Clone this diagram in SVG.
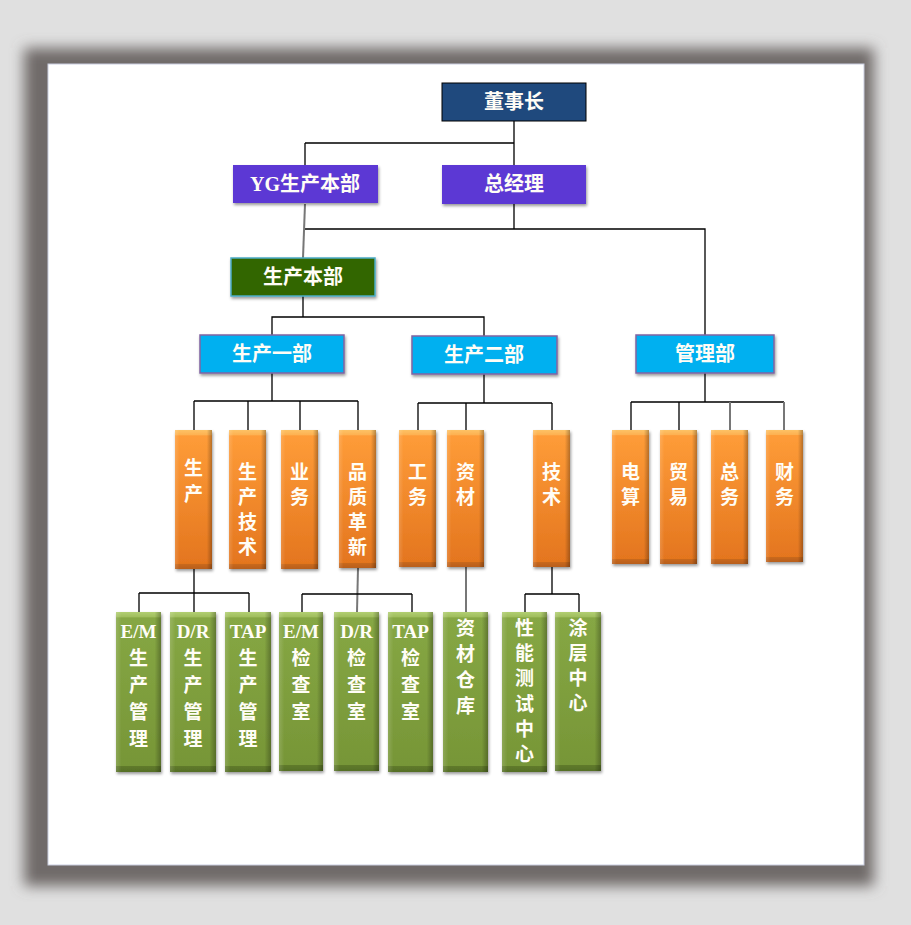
<svg xmlns="http://www.w3.org/2000/svg" width="911" height="925" viewBox="0 0 911 925">
<defs>
<style>
.t{font-family:'Liberation Serif','Noto Sans CJK SC',serif;font-weight:700;fill:#fffdf6;font-size:19px;text-anchor:middle}
.tt{font-size:20px}
.c{fill:none;stroke:#000;stroke-width:1.3}
.g{fill:none;stroke:#777;stroke-width:2}
.ob{fill:url(#og);filter:url(#ds)}
.gb{fill:url(#gg);filter:url(#ds)}
.sd{fill:url(#side)}
.hb{filter:url(#ds)}
</style>
<filter id="pg" x="-10%" y="-10%" width="120%" height="120%"><feGaussianBlur stdDeviation="7"/></filter>
<filter id="ds" x="-20%" y="-20%" width="140%" height="140%"><feDropShadow dx="1" dy="2" stdDeviation="1.5" flood-color="#000" flood-opacity="0.4"/></filter>
<linearGradient id="og" x1="0" y1="0" x2="0" y2="1">
<stop offset="0" stop-color="#fdc265"/><stop offset="0.035" stop-color="#fdb152"/><stop offset="0.042" stop-color="#fe9c38"/><stop offset="0.96" stop-color="#e4761f"/><stop offset="0.965" stop-color="#c8681e"/><stop offset="1" stop-color="#b85f1c"/>
</linearGradient>
<linearGradient id="gg" x1="0" y1="0" x2="0" y2="1">
<stop offset="0" stop-color="#b2cf72"/><stop offset="0.03" stop-color="#a0be5f"/><stop offset="0.037" stop-color="#86a744"/><stop offset="0.96" stop-color="#779637"/><stop offset="0.965" stop-color="#5f7a2b"/><stop offset="1" stop-color="#566f27"/>
</linearGradient>
<linearGradient id="side" x1="0" y1="0" x2="1" y2="0">
<stop offset="0" stop-color="#fff" stop-opacity="0.15"/><stop offset="0.12" stop-color="#fff" stop-opacity="0"/><stop offset="0.86" stop-color="#000" stop-opacity="0"/><stop offset="1" stop-color="#000" stop-opacity="0.28"/>
</linearGradient>
</defs>
<rect width="911" height="925" fill="#e0e0e0"/>
<rect x="24" y="48" width="850" height="838" fill="#6f6b69" filter="url(#pg)"/>
<rect x="48" y="64" width="816" height="801" fill="#fff" stroke="#c9cde0" stroke-width="1"/>

<g id="connectors">
<path class="c" d="M514,121V165M305,143H514M305,165V143M514,204V229M305,229H705V335"/>
<path class="g" d="M305,204L303,258"/>
<path class="c" d="M303,296V317M272,335V317H484V336"/>
<path class="c" d="M272,373V401M194,401H358M194,401V430M248,401V430M300,401V430M358,401V430"/>
<path class="c" d="M484,374V403M418,403H552M418,403V430M466,403V430M552,403V430"/>
<path class="c" d="M705,373V402M631,402H784M631,402V430M679,402V430"/>
<path class="g" d="M730,402V430M784,402V430"/>
<path class="c" d="M194,569V612M139,593H249M139,593V612M249,593V612"/>
<path class="g" d="M358,568L357,612"/>
<path class="c" d="M302,594H412M302,594V612M412,594V612"/>
<path class="g" d="M466,567V612"/>
<path class="c" d="M552,567V594M525,594H579M525,594V612M579,594V612"/>
</g>

<g id="n-dsz"><rect x="442" y="83" width="144" height="38" fill="#1f497d" stroke="#000" stroke-width="1"/><text class="t tt" x="514" y="109">董事长</text></g>
<g id="n-yg"><rect class="hb" x="233" y="165" width="145" height="38" fill="#5b37d4"/><text class="t tt" x="305" y="191">YG生产本部</text></g>
<g id="n-zjl"><rect class="hb" x="442" y="165" width="144" height="39" fill="#5b37d4"/><text class="t tt" x="514" y="191">总经理</text></g>
<g id="n-sc"><rect class="hb" x="231" y="258" width="144" height="38" fill="#336600" stroke="#4bacc6" stroke-width="1.5"/><text class="t tt" x="303" y="284">生产本部</text></g>
<g id="n-sc1"><rect class="hb" x="200" y="335" width="144" height="38" fill="#00b0f0" stroke="#8064a2" stroke-width="1.5"/><text class="t tt" x="272" y="361">生产一部</text></g>
<g id="n-sc2"><rect class="hb" x="412" y="336" width="145" height="38" fill="#00b0f0" stroke="#8064a2" stroke-width="1.5"/><text class="t tt" x="484" y="362">生产二部</text></g>
<g id="n-gl"><rect class="hb" x="636" y="335" width="138" height="38" fill="#00b0f0" stroke="#8064a2" stroke-width="1.5"/><text class="t tt" x="705" y="361">管理部</text></g>

<g id="o-sc"><rect class="ob" x="175" y="430" width="37" height="139"/><rect class="sd" x="175" y="430" width="37" height="139"/><text class="t" x="193.5" y="475">生<tspan x="193.5" dy="26">产</tspan></text></g>
<g id="o-scjs"><rect class="ob" x="229" y="430" width="37" height="139"/><rect class="sd" x="229" y="430" width="37" height="139"/><text class="t" x="247.5" y="479">生<tspan x="247.5" dy="25">产</tspan><tspan x="247.5" dy="25">技</tspan><tspan x="247.5" dy="25">术</tspan></text></g>
<g id="o-yw"><rect class="ob" x="281" y="430" width="37" height="139"/><rect class="sd" x="281" y="430" width="37" height="139"/><text class="t" x="299.5" y="479">业<tspan x="299.5" dy="25">务</tspan></text></g>
<g id="o-pz"><rect class="ob" x="339" y="430" width="37" height="138"/><rect class="sd" x="339" y="430" width="37" height="138"/><text class="t" x="357.5" y="479">品<tspan x="357.5" dy="25">质</tspan><tspan x="357.5" dy="25">革</tspan><tspan x="357.5" dy="25">新</tspan></text></g>
<g id="o-gw"><rect class="ob" x="399" y="430" width="37" height="137"/><rect class="sd" x="399" y="430" width="37" height="137"/><text class="t" x="417.5" y="479">工<tspan x="417.5" dy="25">务</tspan></text></g>
<g id="o-zc"><rect class="ob" x="447" y="430" width="37" height="137"/><rect class="sd" x="447" y="430" width="37" height="137"/><text class="t" x="465.5" y="479">资<tspan x="465.5" dy="25">材</tspan></text></g>
<g id="o-js"><rect class="ob" x="533" y="430" width="37" height="137"/><rect class="sd" x="533" y="430" width="37" height="137"/><text class="t" x="551.5" y="479">技<tspan x="551.5" dy="25">术</tspan></text></g>
<g id="o-ds"><rect class="ob" x="612" y="430" width="37" height="134"/><rect class="sd" x="612" y="430" width="37" height="134"/><text class="t" x="630.5" y="479">电<tspan x="630.5" dy="25">算</tspan></text></g>
<g id="o-my"><rect class="ob" x="660" y="430" width="37" height="134"/><rect class="sd" x="660" y="430" width="37" height="134"/><text class="t" x="678.5" y="479">贸<tspan x="678.5" dy="25">易</tspan></text></g>
<g id="o-zw"><rect class="ob" x="711" y="430" width="37" height="134"/><rect class="sd" x="711" y="430" width="37" height="134"/><text class="t" x="729.5" y="479">总<tspan x="729.5" dy="25">务</tspan></text></g>
<g id="o-cw"><rect class="ob" x="766" y="430" width="37" height="132"/><rect class="sd" x="766" y="430" width="37" height="132"/><text class="t" x="784.5" y="479">财<tspan x="784.5" dy="25">务</tspan></text></g>

<g id="g-em1"><rect class="gb" x="116" y="612" width="45" height="160"/><rect class="sd" x="116" y="612" width="45" height="160"/><text class="t" x="138.5" y="638">E/M<tspan x="138.5" dy="27">生</tspan><tspan x="138.5" dy="27">产</tspan><tspan x="138.5" dy="27">管</tspan><tspan x="138.5" dy="27">理</tspan></text></g>
<g id="g-dr1"><rect class="gb" x="170" y="612" width="46" height="160"/><rect class="sd" x="170" y="612" width="46" height="160"/><text class="t" x="193" y="638">D/R<tspan x="193" dy="27">生</tspan><tspan x="193" dy="27">产</tspan><tspan x="193" dy="27">管</tspan><tspan x="193" dy="27">理</tspan></text></g>
<g id="g-tap1"><rect class="gb" x="225" y="612" width="46" height="160"/><rect class="sd" x="225" y="612" width="46" height="160"/><text class="t" x="248" y="638">TAP<tspan x="248" dy="27">生</tspan><tspan x="248" dy="27">产</tspan><tspan x="248" dy="27">管</tspan><tspan x="248" dy="27">理</tspan></text></g>
<g id="g-em2"><rect class="gb" x="279" y="612" width="44" height="159"/><rect class="sd" x="279" y="612" width="44" height="159"/><text class="t" x="301" y="638">E/M<tspan x="301" dy="27">检</tspan><tspan x="301" dy="27">查</tspan><tspan x="301" dy="27">室</tspan></text></g>
<g id="g-dr2"><rect class="gb" x="334" y="612" width="45" height="159"/><rect class="sd" x="334" y="612" width="45" height="159"/><text class="t" x="356.5" y="638">D/R<tspan x="356.5" dy="27">检</tspan><tspan x="356.5" dy="27">查</tspan><tspan x="356.5" dy="27">室</tspan></text></g>
<g id="g-tap2"><rect class="gb" x="388" y="612" width="45" height="160"/><rect class="sd" x="388" y="612" width="45" height="160"/><text class="t" x="410.5" y="638">TAP<tspan x="410.5" dy="27">检</tspan><tspan x="410.5" dy="27">查</tspan><tspan x="410.5" dy="27">室</tspan></text></g>
<g id="g-zcck"><rect class="gb" x="443" y="612" width="45" height="160"/><rect class="sd" x="443" y="612" width="45" height="160"/><text class="t" x="465.5" y="635">资<tspan x="465.5" dy="26">材</tspan><tspan x="465.5" dy="26">仓</tspan><tspan x="465.5" dy="26">库</tspan></text></g>
<g id="g-xn"><rect class="gb" x="502" y="612" width="45" height="160"/><rect class="sd" x="502" y="612" width="45" height="160"/><text class="t" x="524.5" y="635">性<tspan x="524.5" dy="25.2">能</tspan><tspan x="524.5" dy="25.2">测</tspan><tspan x="524.5" dy="25.2">试</tspan><tspan x="524.5" dy="25.2">中</tspan><tspan x="524.5" dy="25.2">心</tspan></text></g>
<g id="g-tc"><rect class="gb" x="555" y="612" width="46" height="159"/><rect class="sd" x="555" y="612" width="46" height="159"/><text class="t" x="578" y="635">涂<tspan x="578" dy="25">层</tspan><tspan x="578" dy="25">中</tspan><tspan x="578" dy="25">心</tspan></text></g>
</svg>
